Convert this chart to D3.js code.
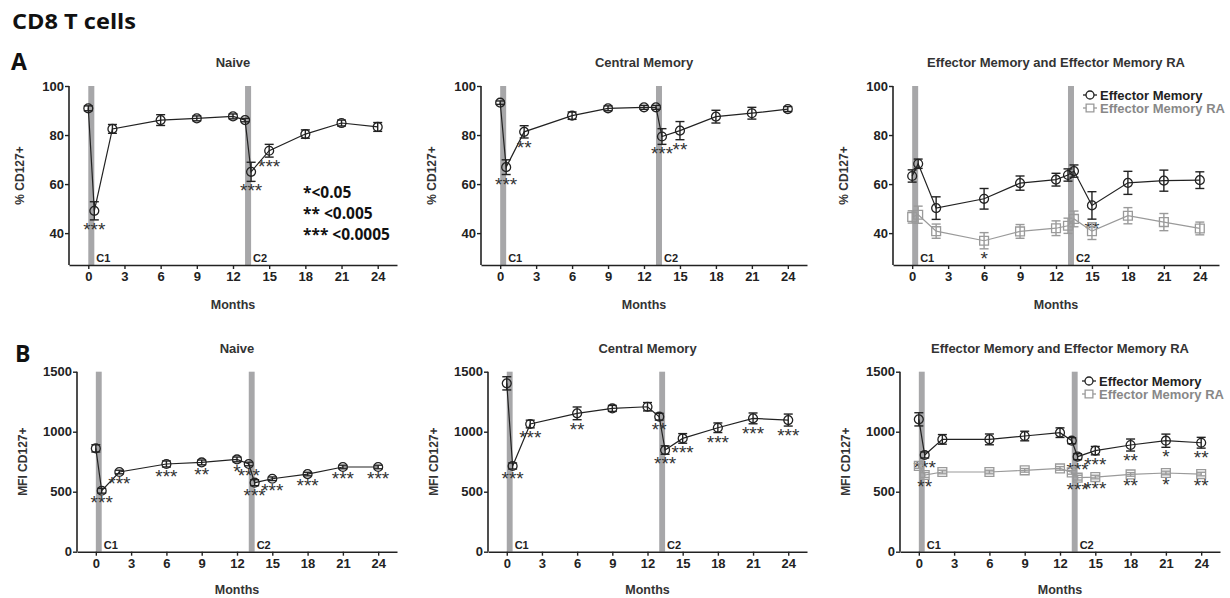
<!DOCTYPE html>
<html>
<head>
<meta charset="utf-8">
<script src="https://cdn.jsdelivr.net/npm/d3@7"></script>
<style>
  body { margin: 0; background: #fff; }
  svg { display: block; }
</style>
</head>
<body>
<script>
// sampling times (months) and axis ticks
var months = [0, 0.5, 2, 6, 9, 12, 13, 13.5, 15, 18, 21, 24]
var monthTicks = [0, 3, 6, 9, 12, 15, 18, 21, 24]
var pctTicks = [40, 60, 80, 100]
var mfiTicks = [0, 500, 1000, 1500]
var cycles = [[0, 0.5], [13, 13.5]]
var cycleLabels = ['C1', 'C2']
var sigLegend = ['*<0.05', '** <0.005', '*** <0.0005']
var seriesNames = ['Effector Memory', 'Effector Memory RA']

// A: % CD127+
var naivePct = [90.9, 49.1, 82.5, 86.1, 86.8, 87.6, 86.1, 65.0, 73.6, 80.4, 84.9, 83.3]
var naivePctErr = [1.0, 3.7, 1.8, 2.2, 1.0, 1.0, 0.7, 3.9, 2.6, 1.7, 1.2, 1.8]
var naivePctSig = ['', '***', '', '', '', '', '', '***', '***', '', '', '']

var cmPct = [93.2, 66.9, 81.3, 87.9, 90.9, 91.3, 91.3, 79.4, 81.8, 87.5, 88.9, 90.6]
var cmPctErr = [0.7, 3.0, 2.5, 1.5, 1.0, 0.8, 0.8, 3.2, 3.7, 2.6, 2.4, 1.0]
var cmPctSig = ['', '***', '**', '', '', '', '', '***', '**', '', '', '']

var emPct = [63.3, 68.3, 50.2, 54.0, 60.4, 61.8, 63.7, 65.3, 51.3, 60.5, 61.4, 61.6]
var emPctErr = [2.5, 1.9, 4.6, 4.2, 2.9, 2.6, 2.5, 2.5, 5.6, 4.7, 4.3, 3.4]
var emPctSig = ['', '', '', '', '', '', '', '', '**', '', '', '']
var emraPct = [46.6, 47.5, 40.8, 36.9, 40.7, 42.0, 43.0, 45.8, 40.8, 47.1, 44.5, 41.9]
var emraPctErr = [2.5, 3.5, 2.9, 3.3, 2.8, 3.0, 3.1, 3.2, 3.4, 3.3, 3.5, 2.6]
var emraPctSig = ['', '', '', '*', '', '', '', '', '', '', '', '']

// B: MFI CD127+
var naiveMfi = [861, 508, 664, 731, 744, 769, 731, 575, 608, 647, 706, 706]
var naiveMfiErr = [30, 20, 15, 25, 20, 20, 15, 25, 15, 15, 15, 15]
var naiveMfiSig = ['', '***', '***', '***', '**', '*', '***', '***', '***', '***', '***', '***']

var cmMfi = [1403, 714, 1064, 1153, 1194, 1208, 1125, 847, 944, 1033, 1111, 1097]
var cmMfiErr = [55, 25, 32, 53, 25, 35, 28, 35, 40, 40, 45, 50]
var cmMfiSig = ['', '***', '***', '**', '', '', '**', '***', '***', '***', '***', '***']

var emMfi = [1103, 806, 936, 936, 964, 992, 925, 792, 842, 889, 925, 908]
var emMfiErr = [55, 25, 40, 45, 40, 40, 25, 25, 35, 50, 55, 45]
var emMfiSig = ['', '***', '', '', '', '', '', '***', '***', '**', '*', '**']
var emraMfi = [715, 639, 664, 664, 678, 694, 661, 617, 622, 644, 656, 647]
var emraMfiErr = [20, 20, 15, 15, 15, 15, 15, 20, 15, 15, 15, 15]
var emraMfiSig = ['', '**', '', '', '', '', '', '***', '***', '**', '*', '**']

var ARIAL = 'Liberation Sans, Arial, sans-serif'
var HEAD = 'Open Sans, Lato, sans-serif'
var DARK = '#222'
var GREY = '#9a9a9a'

var svg = d3.select('body').append('svg')
  .attr('width', 1230)
  .attr('height', 598)

svg.append('text')
  .attr('x', 12).attr('y', 29)
  .attr('font-family', HEAD).attr('font-weight', 700).attr('font-size', 21)
  .attr('textLength', 124).attr('lengthAdjust', 'spacingAndGlyphs')
  .attr('fill', '#111')
  .text('CD8 T cells')

svg.append('text')
  .attr('x', 11).attr('y', 70)
  .attr('font-family', HEAD).attr('font-weight', 700).attr('font-size', 23)
  .attr('fill', '#111')
  .text('A')
svg.append('text')
  .attr('x', 15).attr('y', 362)
  .attr('font-family', HEAD).attr('font-weight', 700).attr('font-size', 23)
  .attr('fill', '#111')
  .text('B')

function drawPanel (p) {
  var g = svg.append('g')

  var x = d3.scaleLinear().domain([-1.6, 25.6]).range([p.left, p.right])
  var y = d3.scaleLinear().domain(p.yDomain).range([p.bottom, p.top])

  // chemo cycle bands
  g.selectAll('rect.cycle')
    .data(cycles)
    .join('rect')
    .attr('class', 'cycle')
    .attr('x', (d) => x(d[0]))
    .attr('width', (d) => x(d[1]) - x(d[0]))
    .attr('y', p.top)
    .attr('height', p.bottom - p.top)
    .attr('fill', '#a7a7a9')

  g.selectAll('text.cycle')
    .data(cycles)
    .join('text')
    .attr('class', 'cycle')
    .attr('x', (d) => x(d[1]) + 2)
    .attr('y', p.bottom - 3)
    .attr('font-family', ARIAL).attr('font-weight', 700).attr('font-size', 11)
    .attr('fill', DARK)
    .text((d, i) => cycleLabels[i])

  // axes
  var xAxis = g.append('g')
    .attr('transform', 'translate(0,' + p.bottom + ')')
    .call(d3.axisBottom(x).tickValues(monthTicks).tickSize(4).tickPadding(3).tickSizeOuter(0))
  var yAxis = g.append('g')
    .attr('transform', 'translate(' + p.left + ',0)')
    .call(d3.axisLeft(y).tickValues(p.yTicks).tickFormat(d3.format('d'))
      .tickSize(4).tickPadding(1).tickSizeOuter(0))
  ;[xAxis, yAxis].forEach(function (a) {
    a.select('.domain').attr('stroke', DARK).attr('stroke-width', 1.6)
    a.selectAll('.tick line').attr('stroke', DARK).attr('stroke-width', 1.4)
    a.selectAll('.tick text')
      .attr('font-family', ARIAL).attr('font-weight', 700).attr('font-size', 13)
      .attr('fill', DARK)
  })
  // y axis starts at the top tick, x axis runs the full width
  yAxis.select('.domain').attr('d', 'M0,' + p.bottom + 'V' + y(p.yTicks[p.yTicks.length - 1]))

  // titles
  g.append('text')
    .attr('x', (p.left + p.right) / 2)
    .attr('y', p.top - 19)
    .attr('text-anchor', 'middle')
    .attr('font-family', ARIAL).attr('font-weight', 700).attr('font-size', 13)
    .attr('fill', '#333')
    .text(p.title)

  g.append('text')
    .attr('x', (p.left + p.right) / 2)
    .attr('y', p.monthsY)
    .attr('text-anchor', 'middle')
    .attr('font-family', ARIAL).attr('font-weight', 700).attr('font-size', 12.5)
    .attr('fill', '#333')
    .text('Months')

  g.append('text')
    .attr('transform', 'translate(' + (p.left - p.yLabelOffset) + ',' + ((p.top + p.bottom) / 2) + ') rotate(-90)')
    .attr('text-anchor', 'middle')
    .attr('dominant-baseline', 'central')
    .attr('font-family', ARIAL).attr('font-weight', 700).attr('font-size', 12)
    .attr('fill', '#333')
    .text(p.yLabel)

  var line = d3.line()
    .x((d) => x(d.m))
    .y((d) => y(d.v))

  p.series.forEach(function (s) {
    var pts = months.map(function (m, i) {
      return { m: m, v: s.values[i], e: s.errs[i], sig: s.sigs[i] }
    })
    var sg = g.append('g')

    sg.append('path')
      .datum(pts)
      .attr('d', line)
      .attr('fill', 'none')
      .attr('stroke', s.color)
      .attr('stroke-width', 1.2)

    // error bars
    var eb = sg.selectAll('g.err')
      .data(pts)
      .join('g')
      .attr('class', 'err')
      .attr('stroke', s.color)
      .attr('stroke-width', 1.4)
    eb.append('line')
      .attr('x1', (d) => x(d.m)).attr('x2', (d) => x(d.m))
      .attr('y1', (d) => y(d.v + d.e)).attr('y2', (d) => y(d.v - d.e))
    eb.append('line')
      .attr('x1', (d) => x(d.m) - 4.5).attr('x2', (d) => x(d.m) + 4.5)
      .attr('y1', (d) => y(d.v + d.e)).attr('y2', (d) => y(d.v + d.e))
    eb.append('line')
      .attr('x1', (d) => x(d.m) - 4.5).attr('x2', (d) => x(d.m) + 4.5)
      .attr('y1', (d) => y(d.v - d.e)).attr('y2', (d) => y(d.v - d.e))

    // markers
    sg.selectAll('path.marker')
      .data(pts)
      .join('path')
      .attr('class', 'marker')
      .attr('transform', (d) => 'translate(' + x(d.m) + ',' + y(d.v) + ')')
      .attr('d', d3.symbol().type(s.shape).size(s.shape === d3.symbolCircle ? 62 : 78))
      .attr('fill', 'none')
      .attr('stroke', s.color)
      .attr('stroke-width', 1.3)

    // significance stars
    sg.selectAll('text.sig')
      .data(pts.filter((d) => d.sig))
      .join('text')
      .attr('class', 'sig')
      .attr('x', (d) => x(d.m))
      .attr('y', (d) => y(d.v - d.e) + 16)
      .attr('text-anchor', 'middle')
      .attr('font-family', ARIAL).attr('font-size', 19)
      .attr('fill', '#333')
      .text((d) => d.sig)
  })

  if (p.legend) {
    var lg = g.append('g')
      .attr('transform', 'translate(' + p.legend[0] + ',' + p.legend[1] + ')')
    p.series.forEach(function (s, i) {
      var row = lg.append('g').attr('transform', 'translate(0,' + (i * 13) + ')')
      row.append('line')
        .attr('x1', -7).attr('x2', 7)
        .attr('stroke', s.color).attr('stroke-width', 1.3)
      row.append('path')
        .attr('d', d3.symbol().type(s.shape).size(s.shape === d3.symbolCircle ? 50 : 60))
        .attr('fill', '#fff')
        .attr('stroke', s.color).attr('stroke-width', 1.3)
      row.append('text')
        .attr('x', 10)
        .attr('dominant-baseline', 'central')
        .attr('font-family', ARIAL).attr('font-weight', 700).attr('font-size', 13)
        .attr('fill', s.color === DARK ? '#222' : '#888')
        .text(seriesNames[i])
    })
  }

  return g
}

var rowA = { top: 86, bottom: 265, yDomain: [27, 100], yTicks: pctTicks, yLabel: '% CD127+', monthsY: 309, yLabelOffset: 49 }
var rowB = { top: 371.7, bottom: 551.7, yDomain: [0, 1500], yTicks: mfiTicks, yLabel: 'MFI CD127+', monthsY: 594, yLabelOffset: 54 }

function panel (row, left, right, title, series, legend) {
  return drawPanel(Object.assign({}, row, {
    left: left, right: right, title: title, series: series, legend: legend
  }))
}

var circleDark = { shape: d3.symbolCircle, color: DARK }
var squareGrey = { shape: d3.symbolSquare, color: GREY }

panel(rowA, 69, 397, 'Naive', [Object.assign({ values: naivePct, errs: naivePctErr, sigs: naivePctSig }, circleDark)])
panel(rowA, 481, 807, 'Central Memory', [Object.assign({ values: cmPct, errs: cmPctErr, sigs: cmPctSig }, circleDark)])
panel(rowA, 893, 1219, 'Effector Memory and Effector Memory RA', [
  Object.assign({ values: emPct, errs: emPctErr, sigs: emPctSig }, circleDark),
  Object.assign({ values: emraPct, errs: emraPctErr, sigs: emraPctSig }, squareGrey)
], [1090, 95])

panel(rowB, 77, 397, 'Naive', [Object.assign({ values: naiveMfi, errs: naiveMfiErr, sigs: naiveMfiSig }, circleDark)])
panel(rowB, 488, 807, 'Central Memory', [Object.assign({ values: cmMfi, errs: cmMfiErr, sigs: cmMfiSig }, circleDark)])
panel(rowB, 900, 1220, 'Effector Memory and Effector Memory RA', [
  Object.assign({ values: emMfi, errs: emMfiErr, sigs: emMfiSig }, circleDark),
  Object.assign({ values: emraMfi, errs: emraMfiErr, sigs: emraMfiSig }, squareGrey)
], [1089, 381])

// p-value key in the first panel
svg.append('g')
  .selectAll('text')
  .data(sigLegend)
  .join('text')
  .attr('x', 303)
  .attr('y', (d, i) => 198 + i * 21)
  .attr('font-family', HEAD).attr('font-weight', 700).attr('font-size', 15.5)
  .attr('fill', '#111')
  .text((d) => d)
</script>
</body>
</html>
